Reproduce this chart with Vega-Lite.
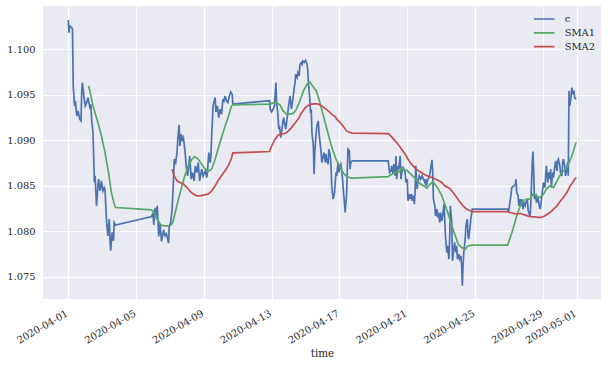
{
"$schema": "https://vega.github.io/schema/vega-lite/v6.json",
"width": 558, "height": 293,
"autosize": "none",
"padding": {"left": 43, "top": 6, "right": 7, "bottom": 66},
"background": "white",
"config": {
  "font": "DejaVu Serif",
  "view": {"fill": "#EAEAF2", "stroke": null},
  "axis": {"domain": false, "ticks": false, "gridColor": "white", "gridWidth": 1.1, "labelFont": "DejaVu Serif", "labelFontSize": 9.9, "labelColor": "#262626", "titleFont": "DejaVu Serif", "titleFontSize": 10.4, "titleColor": "#262626", "titleFontWeight": "normal"}
},
"data": {"values": [
{"t":"2020-04-01T00:00","v":1.10322,"s":"c"},{"t":"2020-04-01T01:00","v":1.10182,"s":"c"},{"t":"2020-04-01T02:00","v":1.10256,"s":"c"},{"t":"2020-04-01T05:00","v":1.10237,"s":"c"},{"t":"2020-04-01T06:00","v":1.10220,"s":"c"},{"t":"2020-04-01T07:00","v":1.09597,"s":"c"},{"t":"2020-04-01T09:00","v":1.09377,"s":"c"},{"t":"2020-04-01T10:00","v":1.09432,"s":"c"},{"t":"2020-04-01T12:00","v":1.09267,"s":"c"},{"t":"2020-04-01T14:00","v":1.09322,"s":"c"},{"t":"2020-04-01T16:00","v":1.09234,"s":"c"},{"t":"2020-04-01T18:00","v":1.09212,"s":"c"},{"t":"2020-04-01T19:00","v":1.09523,"s":"c"},{"t":"2020-04-01T20:00","v":1.09633,"s":"c"},{"t":"2020-04-01T22:00","v":1.09487,"s":"c"},
{"t":"2020-04-02T00:00","v":1.09377,"s":"c"},{"t":"2020-04-02T02:00","v":1.09413,"s":"c"},{"t":"2020-04-02T04:00","v":1.09468,"s":"c"},{"t":"2020-04-02T07:00","v":1.09341,"s":"c"},{"t":"2020-04-02T08:00","v":1.09396,"s":"c"},{"t":"2020-04-02T09:00","v":1.09231,"s":"c"},{"t":"2020-04-02T11:00","v":1.09084,"s":"c"},{"t":"2020-04-02T13:00","v":1.08534,"s":"c"},{"t":"2020-04-02T14:00","v":1.08608,"s":"c"},{"t":"2020-04-02T16:00","v":1.08278,"s":"c"},{"t":"2020-04-02T18:00","v":1.08498,"s":"c"},{"t":"2020-04-02T19:00","v":1.08571,"s":"c"},{"t":"2020-04-02T21:00","v":1.08443,"s":"c"},{"t":"2020-04-02T23:00","v":1.08553,"s":"c"},
{"t":"2020-04-03T01:00","v":1.08443,"s":"c"},{"t":"2020-04-03T03:00","v":1.08479,"s":"c"},{"t":"2020-04-03T04:00","v":1.08462,"s":"c"},{"t":"2020-04-03T06:00","v":1.08132,"s":"c"},{"t":"2020-04-03T08:00","v":1.07948,"s":"c"},{"t":"2020-04-03T10:00","v":1.08132,"s":"c"},{"t":"2020-04-03T11:00","v":1.07912,"s":"c"},{"t":"2020-04-03T12:00","v":1.07784,"s":"c"},{"t":"2020-04-03T14:00","v":1.07985,"s":"c"},{"t":"2020-04-03T16:00","v":1.07893,"s":"c"},{"t":"2020-04-03T17:00","v":1.08094,"s":"c"},{"t":"2020-04-03T19:00","v":1.08066,"s":"c"},
{"t":"2020-04-05T22:00","v":1.08160,"s":"c"},{"t":"2020-04-06T00:00","v":1.08201,"s":"c"},{"t":"2020-04-06T01:00","v":1.08069,"s":"c"},{"t":"2020-04-06T03:00","v":1.08256,"s":"c"},{"t":"2020-04-06T05:00","v":1.08168,"s":"c"},{"t":"2020-04-06T06:00","v":1.08278,"s":"c"},{"t":"2020-04-06T08:00","v":1.07941,"s":"c"},{"t":"2020-04-06T10:00","v":1.08080,"s":"c"},{"t":"2020-04-06T12:00","v":1.07886,"s":"c"},{"t":"2020-04-06T15:00","v":1.08014,"s":"c"},{"t":"2020-04-06T17:00","v":1.07948,"s":"c"},{"t":"2020-04-06T19:00","v":1.07970,"s":"c"},{"t":"2020-04-06T22:00","v":1.07868,"s":"c"},{"t":"2020-04-06T23:00","v":1.08058,"s":"c"},
{"t":"2020-04-07T01:00","v":1.08094,"s":"c"},{"t":"2020-04-07T03:00","v":1.08242,"s":"c"},{"t":"2020-04-07T05:00","v":1.08571,"s":"c"},{"t":"2020-04-07T06:00","v":1.08791,"s":"c"},{"t":"2020-04-07T08:00","v":1.08754,"s":"c"},{"t":"2020-04-07T10:00","v":1.08864,"s":"c"},{"t":"2020-04-07T11:00","v":1.09011,"s":"c"},{"t":"2020-04-07T13:00","v":1.09168,"s":"c"},{"t":"2020-04-07T14:00","v":1.08937,"s":"c"},{"t":"2020-04-07T16:00","v":1.09066,"s":"c"},{"t":"2020-04-07T17:00","v":1.08992,"s":"c"},{"t":"2020-04-07T19:00","v":1.09029,"s":"c"},{"t":"2020-04-07T21:00","v":1.08901,"s":"c"},{"t":"2020-04-07T23:00","v":1.08718,"s":"c"},
{"t":"2020-04-08T01:00","v":1.08608,"s":"c"},{"t":"2020-04-08T02:00","v":1.08681,"s":"c"},{"t":"2020-04-08T04:00","v":1.08827,"s":"c"},{"t":"2020-04-08T06:00","v":1.08571,"s":"c"},{"t":"2020-04-08T08:00","v":1.08644,"s":"c"},{"t":"2020-04-08T10:00","v":1.08553,"s":"c"},{"t":"2020-04-08T12:00","v":1.08718,"s":"c"},{"t":"2020-04-08T14:00","v":1.08644,"s":"c"},{"t":"2020-04-08T16:00","v":1.08754,"s":"c"},{"t":"2020-04-08T18:00","v":1.08553,"s":"c"},{"t":"2020-04-08T21:00","v":1.08681,"s":"c"},{"t":"2020-04-08T23:00","v":1.08608,"s":"c"},
{"t":"2020-04-09T02:00","v":1.08663,"s":"c"},{"t":"2020-04-09T04:00","v":1.08589,"s":"c"},{"t":"2020-04-09T05:00","v":1.08644,"s":"c"},{"t":"2020-04-09T07:00","v":1.08864,"s":"c"},{"t":"2020-04-09T09:00","v":1.08754,"s":"c"},{"t":"2020-04-09T10:00","v":1.08827,"s":"c"},{"t":"2020-04-09T11:00","v":1.09047,"s":"c"},{"t":"2020-04-09T13:00","v":1.09377,"s":"c"},{"t":"2020-04-09T14:00","v":1.09413,"s":"c"},{"t":"2020-04-09T16:00","v":1.09468,"s":"c"},{"t":"2020-04-09T17:00","v":1.09311,"s":"c"},{"t":"2020-04-09T19:00","v":1.09377,"s":"c"},{"t":"2020-04-09T21:00","v":1.09248,"s":"c"},{"t":"2020-04-09T23:00","v":1.09341,"s":"c"},
{"t":"2020-04-10T01:00","v":1.09286,"s":"c"},{"t":"2020-04-10T03:00","v":1.09451,"s":"c"},{"t":"2020-04-10T04:00","v":1.09413,"s":"c"},{"t":"2020-04-10T06:00","v":1.09487,"s":"c"},{"t":"2020-04-10T08:00","v":1.09432,"s":"c"},{"t":"2020-04-10T10:00","v":1.09413,"s":"c"},{"t":"2020-04-10T12:00","v":1.09487,"s":"c"},{"t":"2020-04-10T14:00","v":1.09531,"s":"c"},{"t":"2020-04-10T16:00","v":1.09505,"s":"c"},{"t":"2020-04-10T17:00","v":1.09396,"s":"c"},
{"t":"2020-04-12T21:00","v":1.09435,"s":"c"},{"t":"2020-04-12T22:00","v":1.09341,"s":"c"},{"t":"2020-04-13T00:00","v":1.09311,"s":"c"},{"t":"2020-04-13T02:00","v":1.09341,"s":"c"},{"t":"2020-04-13T04:00","v":1.09377,"s":"c"},{"t":"2020-04-13T06:00","v":1.09633,"s":"c"},{"t":"2020-04-13T07:00","v":1.09413,"s":"c"},{"t":"2020-04-13T09:00","v":1.09267,"s":"c"},{"t":"2020-04-13T10:00","v":1.09121,"s":"c"},{"t":"2020-04-13T11:00","v":1.09157,"s":"c"},{"t":"2020-04-13T13:00","v":1.09029,"s":"c"},{"t":"2020-04-13T14:00","v":1.09084,"s":"c"},{"t":"2020-04-13T16:00","v":1.09212,"s":"c"},{"t":"2020-04-13T17:00","v":1.09248,"s":"c"},{"t":"2020-04-13T19:00","v":1.09157,"s":"c"},{"t":"2020-04-13T20:00","v":1.09121,"s":"c"},{"t":"2020-04-13T22:00","v":1.09248,"s":"c"},
{"t":"2020-04-14T00:00","v":1.09377,"s":"c"},{"t":"2020-04-14T02:00","v":1.09487,"s":"c"},{"t":"2020-04-14T03:00","v":1.09413,"s":"c"},{"t":"2020-04-14T04:00","v":1.09341,"s":"c"},{"t":"2020-04-14T06:00","v":1.09451,"s":"c"},{"t":"2020-04-14T08:00","v":1.09578,"s":"c"},{"t":"2020-04-14T09:00","v":1.09633,"s":"c"},{"t":"2020-04-14T10:00","v":1.09725,"s":"c"},{"t":"2020-04-14T12:00","v":1.09688,"s":"c"},{"t":"2020-04-14T13:00","v":1.09743,"s":"c"},{"t":"2020-04-14T15:00","v":1.09707,"s":"c"},{"t":"2020-04-14T16:00","v":1.09835,"s":"c"},{"t":"2020-04-14T18:00","v":1.09853,"s":"c"},{"t":"2020-04-14T19:00","v":1.09835,"s":"c"},{"t":"2020-04-14T20:00","v":1.09871,"s":"c"},{"t":"2020-04-14T22:00","v":1.09853,"s":"c"},
{"t":"2020-04-15T00:00","v":1.09879,"s":"c"},{"t":"2020-04-15T02:00","v":1.09835,"s":"c"},{"t":"2020-04-15T03:00","v":1.09780,"s":"c"},{"t":"2020-04-15T04:00","v":1.09633,"s":"c"},{"t":"2020-04-15T06:00","v":1.09451,"s":"c"},{"t":"2020-04-15T07:00","v":1.09303,"s":"c"},{"t":"2020-04-15T08:00","v":1.09341,"s":"c"},{"t":"2020-04-15T09:00","v":1.09084,"s":"c"},{"t":"2020-04-15T11:00","v":1.08937,"s":"c"},{"t":"2020-04-15T12:00","v":1.08626,"s":"c"},{"t":"2020-04-15T13:00","v":1.08864,"s":"c"},{"t":"2020-04-15T15:00","v":1.09084,"s":"c"},{"t":"2020-04-15T16:00","v":1.09157,"s":"c"},{"t":"2020-04-15T18:00","v":1.09212,"s":"c"},{"t":"2020-04-15T19:00","v":1.09084,"s":"c"},{"t":"2020-04-15T20:00","v":1.09011,"s":"c"},{"t":"2020-04-15T22:00","v":1.08864,"s":"c"},{"t":"2020-04-15T23:00","v":1.08754,"s":"c"},
{"t":"2020-04-16T01:00","v":1.08827,"s":"c"},{"t":"2020-04-16T02:00","v":1.08864,"s":"c"},{"t":"2020-04-16T04:00","v":1.08754,"s":"c"},{"t":"2020-04-16T05:00","v":1.08846,"s":"c"},{"t":"2020-04-16T06:00","v":1.08791,"s":"c"},{"t":"2020-04-16T08:00","v":1.08736,"s":"c"},{"t":"2020-04-16T09:00","v":1.08901,"s":"c"},{"t":"2020-04-16T11:00","v":1.08827,"s":"c"},{"t":"2020-04-16T12:00","v":1.08718,"s":"c"},{"t":"2020-04-16T13:00","v":1.08498,"s":"c"},{"t":"2020-04-16T15:00","v":1.08352,"s":"c"},{"t":"2020-04-16T17:00","v":1.08424,"s":"c"},{"t":"2020-04-16T19:00","v":1.08644,"s":"c"},{"t":"2020-04-16T20:00","v":1.08608,"s":"c"},{"t":"2020-04-16T22:00","v":1.08754,"s":"c"},{"t":"2020-04-16T23:00","v":1.08644,"s":"c"},
{"t":"2020-04-17T01:00","v":1.08718,"s":"c"},{"t":"2020-04-17T02:00","v":1.08736,"s":"c"},{"t":"2020-04-17T04:00","v":1.08608,"s":"c"},{"t":"2020-04-17T05:00","v":1.08498,"s":"c"},{"t":"2020-04-17T07:00","v":1.08314,"s":"c"},{"t":"2020-04-17T08:00","v":1.08204,"s":"c"},{"t":"2020-04-17T10:00","v":1.08388,"s":"c"},{"t":"2020-04-17T11:00","v":1.08644,"s":"c"},{"t":"2020-04-17T12:00","v":1.08901,"s":"c"},{"t":"2020-04-17T14:00","v":1.08882,"s":"c"},{"t":"2020-04-17T15:00","v":1.08681,"s":"c"},{"t":"2020-04-17T16:00","v":1.08754,"s":"c"},{"t":"2020-04-17T18:00","v":1.08773,"s":"c"},
{"t":"2020-04-19T21:00","v":1.08773,"s":"c"},{"t":"2020-04-19T23:00","v":1.08644,"s":"c"},{"t":"2020-04-20T01:00","v":1.08663,"s":"c"},{"t":"2020-04-20T02:00","v":1.08718,"s":"c"},{"t":"2020-04-20T04:00","v":1.08626,"s":"c"},{"t":"2020-04-20T05:00","v":1.08736,"s":"c"},{"t":"2020-04-20T07:00","v":1.08608,"s":"c"},{"t":"2020-04-20T08:00","v":1.08827,"s":"c"},{"t":"2020-04-20T09:00","v":1.08571,"s":"c"},{"t":"2020-04-20T11:00","v":1.08718,"s":"c"},{"t":"2020-04-20T12:00","v":1.08681,"s":"c"},{"t":"2020-04-20T14:00","v":1.08827,"s":"c"},{"t":"2020-04-20T15:00","v":1.08571,"s":"c"},{"t":"2020-04-20T17:00","v":1.08681,"s":"c"},{"t":"2020-04-20T18:00","v":1.08699,"s":"c"},{"t":"2020-04-20T19:00","v":1.08681,"s":"c"},{"t":"2020-04-20T21:00","v":1.08644,"s":"c"},{"t":"2020-04-20T22:00","v":1.08534,"s":"c"},
{"t":"2020-04-21T00:00","v":1.08571,"s":"c"},{"t":"2020-04-21T01:00","v":1.08333,"s":"c"},{"t":"2020-04-21T03:00","v":1.08407,"s":"c"},{"t":"2020-04-21T04:00","v":1.08352,"s":"c"},{"t":"2020-04-21T06:00","v":1.08407,"s":"c"},{"t":"2020-04-21T07:00","v":1.08333,"s":"c"},{"t":"2020-04-21T09:00","v":1.08388,"s":"c"},{"t":"2020-04-21T10:00","v":1.08297,"s":"c"},{"t":"2020-04-21T11:00","v":1.08424,"s":"c"},{"t":"2020-04-21T12:00","v":1.08718,"s":"c"},{"t":"2020-04-21T14:00","v":1.08462,"s":"c"},{"t":"2020-04-21T15:00","v":1.08534,"s":"c"},{"t":"2020-04-21T17:00","v":1.08608,"s":"c"},{"t":"2020-04-21T19:00","v":1.08571,"s":"c"},{"t":"2020-04-21T21:00","v":1.08608,"s":"c"},{"t":"2020-04-21T23:00","v":1.08571,"s":"c"},
{"t":"2020-04-22T01:00","v":1.08534,"s":"c"},{"t":"2020-04-22T02:00","v":1.08571,"s":"c"},{"t":"2020-04-22T03:00","v":1.08498,"s":"c"},{"t":"2020-04-22T05:00","v":1.08571,"s":"c"},{"t":"2020-04-22T07:00","v":1.08589,"s":"c"},{"t":"2020-04-22T09:00","v":1.08681,"s":"c"},{"t":"2020-04-22T11:00","v":1.08784,"s":"c"},{"t":"2020-04-22T12:00","v":1.08644,"s":"c"},{"t":"2020-04-22T13:00","v":1.08352,"s":"c"},{"t":"2020-04-22T15:00","v":1.08278,"s":"c"},{"t":"2020-04-22T16:00","v":1.08168,"s":"c"},{"t":"2020-04-22T18:00","v":1.08242,"s":"c"},{"t":"2020-04-22T19:00","v":1.08149,"s":"c"},{"t":"2020-04-22T20:00","v":1.08204,"s":"c"},{"t":"2020-04-22T22:00","v":1.08094,"s":"c"},{"t":"2020-04-22T23:00","v":1.08204,"s":"c"},
{"t":"2020-04-23T01:00","v":1.08113,"s":"c"},{"t":"2020-04-23T02:00","v":1.08168,"s":"c"},{"t":"2020-04-23T04:00","v":1.08297,"s":"c"},{"t":"2020-04-23T05:00","v":1.08132,"s":"c"},{"t":"2020-04-23T06:00","v":1.07948,"s":"c"},{"t":"2020-04-23T08:00","v":1.07765,"s":"c"},{"t":"2020-04-23T09:00","v":1.07838,"s":"c"},{"t":"2020-04-23T11:00","v":1.07692,"s":"c"},{"t":"2020-04-23T12:00","v":1.07912,"s":"c"},{"t":"2020-04-23T13:00","v":1.08278,"s":"c"},{"t":"2020-04-23T15:00","v":1.08094,"s":"c"},{"t":"2020-04-23T16:00","v":1.07673,"s":"c"},{"t":"2020-04-23T18:00","v":1.07802,"s":"c"},{"t":"2020-04-23T19:00","v":1.07875,"s":"c"},{"t":"2020-04-23T21:00","v":1.07765,"s":"c"},{"t":"2020-04-23T22:00","v":1.07838,"s":"c"},{"t":"2020-04-23T23:00","v":1.07692,"s":"c"},
{"t":"2020-04-24T01:00","v":1.07747,"s":"c"},{"t":"2020-04-24T02:00","v":1.07692,"s":"c"},{"t":"2020-04-24T04:00","v":1.07729,"s":"c"},{"t":"2020-04-24T05:00","v":1.07619,"s":"c"},{"t":"2020-04-24T06:00","v":1.07399,"s":"c"},{"t":"2020-04-24T07:00","v":1.07619,"s":"c"},{"t":"2020-04-24T08:00","v":1.07765,"s":"c"},{"t":"2020-04-24T10:00","v":1.07912,"s":"c"},{"t":"2020-04-24T11:00","v":1.08058,"s":"c"},{"t":"2020-04-24T13:00","v":1.08132,"s":"c"},{"t":"2020-04-24T14:00","v":1.07948,"s":"c"},{"t":"2020-04-24T15:00","v":1.07912,"s":"c"},{"t":"2020-04-24T17:00","v":1.08058,"s":"c"},{"t":"2020-04-24T18:00","v":1.08132,"s":"c"},{"t":"2020-04-24T20:00","v":1.08242,"s":"c"},
{"t":"2020-04-26T22:00","v":1.08242,"s":"c"},{"t":"2020-04-26T23:00","v":1.08204,"s":"c"},{"t":"2020-04-27T00:00","v":1.08242,"s":"c"},{"t":"2020-04-27T02:00","v":1.08352,"s":"c"},{"t":"2020-04-27T04:00","v":1.08479,"s":"c"},{"t":"2020-04-27T06:00","v":1.08490,"s":"c"},{"t":"2020-04-27T09:00","v":1.08509,"s":"c"},{"t":"2020-04-27T10:00","v":1.08571,"s":"c"},{"t":"2020-04-27T11:00","v":1.08424,"s":"c"},{"t":"2020-04-27T13:00","v":1.08388,"s":"c"},{"t":"2020-04-27T14:00","v":1.08278,"s":"c"},{"t":"2020-04-27T16:00","v":1.08352,"s":"c"},{"t":"2020-04-27T17:00","v":1.08278,"s":"c"},{"t":"2020-04-27T18:00","v":1.08352,"s":"c"},{"t":"2020-04-27T20:00","v":1.08242,"s":"c"},{"t":"2020-04-27T21:00","v":1.08314,"s":"c"},{"t":"2020-04-27T23:00","v":1.08278,"s":"c"},
{"t":"2020-04-28T00:00","v":1.08314,"s":"c"},{"t":"2020-04-28T02:00","v":1.08352,"s":"c"},{"t":"2020-04-28T03:00","v":1.08242,"s":"c"},{"t":"2020-04-28T04:00","v":1.08204,"s":"c"},{"t":"2020-04-28T06:00","v":1.08168,"s":"c"},{"t":"2020-04-28T07:00","v":1.08314,"s":"c"},{"t":"2020-04-28T09:00","v":1.08754,"s":"c"},{"t":"2020-04-28T10:00","v":1.08875,"s":"c"},{"t":"2020-04-28T11:00","v":1.08644,"s":"c"},{"t":"2020-04-28T12:00","v":1.08352,"s":"c"},{"t":"2020-04-28T14:00","v":1.08388,"s":"c"},{"t":"2020-04-28T15:00","v":1.08314,"s":"c"},{"t":"2020-04-28T17:00","v":1.08369,"s":"c"},{"t":"2020-04-28T18:00","v":1.08314,"s":"c"},{"t":"2020-04-28T20:00","v":1.08242,"s":"c"},{"t":"2020-04-28T21:00","v":1.08278,"s":"c"},{"t":"2020-04-28T22:00","v":1.08352,"s":"c"},
{"t":"2020-04-29T00:00","v":1.08479,"s":"c"},{"t":"2020-04-29T01:00","v":1.08534,"s":"c"},{"t":"2020-04-29T03:00","v":1.08479,"s":"c"},{"t":"2020-04-29T04:00","v":1.08608,"s":"c"},{"t":"2020-04-29T05:00","v":1.08718,"s":"c"},{"t":"2020-04-29T07:00","v":1.08534,"s":"c"},{"t":"2020-04-29T08:00","v":1.08644,"s":"c"},{"t":"2020-04-29T10:00","v":1.08571,"s":"c"},{"t":"2020-04-29T11:00","v":1.08681,"s":"c"},{"t":"2020-04-29T12:00","v":1.08479,"s":"c"},{"t":"2020-04-29T14:00","v":1.08644,"s":"c"},{"t":"2020-04-29T15:00","v":1.08589,"s":"c"},{"t":"2020-04-29T17:00","v":1.08718,"s":"c"},{"t":"2020-04-29T18:00","v":1.08773,"s":"c"},{"t":"2020-04-29T20:00","v":1.08663,"s":"c"},{"t":"2020-04-29T21:00","v":1.08773,"s":"c"},{"t":"2020-04-29T22:00","v":1.08791,"s":"c"},
{"t":"2020-04-30T00:00","v":1.08718,"s":"c"},{"t":"2020-04-30T01:00","v":1.08644,"s":"c"},{"t":"2020-04-30T03:00","v":1.08608,"s":"c"},{"t":"2020-04-30T04:00","v":1.08754,"s":"c"},{"t":"2020-04-30T05:00","v":1.08791,"s":"c"},{"t":"2020-04-30T07:00","v":1.08718,"s":"c"},{"t":"2020-04-30T08:00","v":1.08608,"s":"c"},{"t":"2020-04-30T10:00","v":1.08681,"s":"c"},{"t":"2020-04-30T11:00","v":1.08754,"s":"c"},{"t":"2020-04-30T12:00","v":1.08608,"s":"c"},{"t":"2020-04-30T13:00","v":1.09542,"s":"c"},{"t":"2020-04-30T14:00","v":1.09377,"s":"c"},{"t":"2020-04-30T16:00","v":1.09476,"s":"c"},{"t":"2020-04-30T17:00","v":1.09578,"s":"c"},{"t":"2020-04-30T19:00","v":1.09505,"s":"c"},{"t":"2020-04-30T20:00","v":1.09545,"s":"c"},{"t":"2020-04-30T21:00","v":1.09468,"s":"c"},{"t":"2020-04-30T23:00","v":1.09451,"s":"c"},

{"t":"2020-04-02T05:00","v":1.09597,"s":"SMA1"},{"t":"2020-04-02T11:00","v":1.09377,"s":"SMA1"},{"t":"2020-04-02T18:00","v":1.09193,"s":"SMA1"},{"t":"2020-04-02T23:00","v":1.09047,"s":"SMA1"},{"t":"2020-04-03T04:00","v":1.08864,"s":"SMA1"},{"t":"2020-04-03T09:00","v":1.08644,"s":"SMA1"},{"t":"2020-04-03T13:00","v":1.08424,"s":"SMA1"},{"t":"2020-04-03T17:00","v":1.08297,"s":"SMA1"},{"t":"2020-04-03T19:00","v":1.08259,"s":"SMA1"},
{"t":"2020-04-05T22:00","v":1.08234,"s":"SMA1"},{"t":"2020-04-06T03:00","v":1.08196,"s":"SMA1"},{"t":"2020-04-06T05:00","v":1.08132,"s":"SMA1"},{"t":"2020-04-06T07:00","v":1.08124,"s":"SMA1"},{"t":"2020-04-06T10:00","v":1.08077,"s":"SMA1"},{"t":"2020-04-06T12:00","v":1.08062,"s":"SMA1"},{"t":"2020-04-06T18:00","v":1.08058,"s":"SMA1"},{"t":"2020-04-07T00:00","v":1.08058,"s":"SMA1"},{"t":"2020-04-07T04:00","v":1.08094,"s":"SMA1"},{"t":"2020-04-07T07:00","v":1.08190,"s":"SMA1"},{"t":"2020-04-07T12:00","v":1.08352,"s":"SMA1"},{"t":"2020-04-07T17:00","v":1.08498,"s":"SMA1"},{"t":"2020-04-07T21:00","v":1.08608,"s":"SMA1"},{"t":"2020-04-08T02:00","v":1.08718,"s":"SMA1"},{"t":"2020-04-08T07:00","v":1.08791,"s":"SMA1"},{"t":"2020-04-08T11:00","v":1.08820,"s":"SMA1"},{"t":"2020-04-08T16:00","v":1.08791,"s":"SMA1"},{"t":"2020-04-08T21:00","v":1.08736,"s":"SMA1"},{"t":"2020-04-09T02:00","v":1.08681,"s":"SMA1"},{"t":"2020-04-09T06:00","v":1.08655,"s":"SMA1"},{"t":"2020-04-09T11:00","v":1.08681,"s":"SMA1"},{"t":"2020-04-09T16:00","v":1.08791,"s":"SMA1"},{"t":"2020-04-09T20:00","v":1.08901,"s":"SMA1"},{"t":"2020-04-10T01:00","v":1.09029,"s":"SMA1"},{"t":"2020-04-10T06:00","v":1.09157,"s":"SMA1"},{"t":"2020-04-10T11:00","v":1.09267,"s":"SMA1"},{"t":"2020-04-10T15:00","v":1.09377,"s":"SMA1"},{"t":"2020-04-10T17:00","v":1.09388,"s":"SMA1"},
{"t":"2020-04-12T21:00","v":1.09396,"s":"SMA1"},{"t":"2020-04-13T02:00","v":1.09407,"s":"SMA1"},{"t":"2020-04-13T07:00","v":1.09413,"s":"SMA1"},{"t":"2020-04-13T12:00","v":1.09385,"s":"SMA1"},{"t":"2020-04-13T16:00","v":1.09322,"s":"SMA1"},{"t":"2020-04-13T21:00","v":1.09286,"s":"SMA1"},{"t":"2020-04-14T02:00","v":1.09286,"s":"SMA1"},{"t":"2020-04-14T07:00","v":1.09297,"s":"SMA1"},{"t":"2020-04-14T11:00","v":1.09341,"s":"SMA1"},{"t":"2020-04-14T16:00","v":1.09432,"s":"SMA1"},{"t":"2020-04-14T21:00","v":1.09542,"s":"SMA1"},{"t":"2020-04-15T02:00","v":1.09615,"s":"SMA1"},{"t":"2020-04-15T06:00","v":1.09641,"s":"SMA1"},{"t":"2020-04-15T10:00","v":1.09597,"s":"SMA1"},{"t":"2020-04-15T15:00","v":1.09542,"s":"SMA1"},{"t":"2020-04-15T19:00","v":1.09451,"s":"SMA1"},{"t":"2020-04-16T00:00","v":1.09303,"s":"SMA1"},{"t":"2020-04-16T05:00","v":1.09157,"s":"SMA1"},{"t":"2020-04-16T10:00","v":1.09011,"s":"SMA1"},{"t":"2020-04-16T14:00","v":1.08901,"s":"SMA1"},{"t":"2020-04-16T19:00","v":1.08791,"s":"SMA1"},{"t":"2020-04-17T00:00","v":1.08718,"s":"SMA1"},{"t":"2020-04-17T05:00","v":1.08644,"s":"SMA1"},{"t":"2020-04-17T09:00","v":1.08608,"s":"SMA1"},{"t":"2020-04-17T14:00","v":1.08589,"s":"SMA1"},{"t":"2020-04-17T18:00","v":1.08582,"s":"SMA1"},
{"t":"2020-04-19T21:00","v":1.08600,"s":"SMA1"},{"t":"2020-04-20T02:00","v":1.08626,"s":"SMA1"},{"t":"2020-04-20T09:00","v":1.08655,"s":"SMA1"},{"t":"2020-04-20T13:00","v":1.08652,"s":"SMA1"},{"t":"2020-04-20T16:00","v":1.08699,"s":"SMA1"},{"t":"2020-04-20T19:00","v":1.08681,"s":"SMA1"},{"t":"2020-04-21T00:00","v":1.08663,"s":"SMA1"},{"t":"2020-04-21T05:00","v":1.08626,"s":"SMA1"},{"t":"2020-04-21T10:00","v":1.08589,"s":"SMA1"},{"t":"2020-04-21T14:00","v":1.08553,"s":"SMA1"},{"t":"2020-04-21T19:00","v":1.08517,"s":"SMA1"},{"t":"2020-04-21T23:00","v":1.08498,"s":"SMA1"},{"t":"2020-04-22T04:00","v":1.08473,"s":"SMA1"},{"t":"2020-04-22T07:00","v":1.08506,"s":"SMA1"},{"t":"2020-04-22T12:00","v":1.08542,"s":"SMA1"},{"t":"2020-04-22T15:00","v":1.08517,"s":"SMA1"},{"t":"2020-04-22T20:00","v":1.08462,"s":"SMA1"},{"t":"2020-04-23T01:00","v":1.08388,"s":"SMA1"},{"t":"2020-04-23T05:00","v":1.08297,"s":"SMA1"},{"t":"2020-04-23T10:00","v":1.08187,"s":"SMA1"},{"t":"2020-04-23T15:00","v":1.08058,"s":"SMA1"},{"t":"2020-04-23T20:00","v":1.07948,"s":"SMA1"},{"t":"2020-04-24T00:00","v":1.07857,"s":"SMA1"},{"t":"2020-04-24T05:00","v":1.07820,"s":"SMA1"},{"t":"2020-04-24T10:00","v":1.07802,"s":"SMA1"},{"t":"2020-04-24T14:00","v":1.07838,"s":"SMA1"},{"t":"2020-04-24T20:00","v":1.07846,"s":"SMA1"},
{"t":"2020-04-26T22:00","v":1.07846,"s":"SMA1"},{"t":"2020-04-27T01:00","v":1.07912,"s":"SMA1"},{"t":"2020-04-27T05:00","v":1.08003,"s":"SMA1"},{"t":"2020-04-27T11:00","v":1.08168,"s":"SMA1"},{"t":"2020-04-27T16:00","v":1.08278,"s":"SMA1"},{"t":"2020-04-27T20:00","v":1.08333,"s":"SMA1"},{"t":"2020-04-28T01:00","v":1.08352,"s":"SMA1"},{"t":"2020-04-28T06:00","v":1.08355,"s":"SMA1"},{"t":"2020-04-28T10:00","v":1.08407,"s":"SMA1"},{"t":"2020-04-28T15:00","v":1.08388,"s":"SMA1"},{"t":"2020-04-28T20:00","v":1.08369,"s":"SMA1"},{"t":"2020-04-29T01:00","v":1.08407,"s":"SMA1"},{"t":"2020-04-29T05:00","v":1.08462,"s":"SMA1"},{"t":"2020-04-29T10:00","v":1.08498,"s":"SMA1"},{"t":"2020-04-29T15:00","v":1.08479,"s":"SMA1"},{"t":"2020-04-29T20:00","v":1.08553,"s":"SMA1"},{"t":"2020-04-30T00:00","v":1.08608,"s":"SMA1"},{"t":"2020-04-30T05:00","v":1.08663,"s":"SMA1"},{"t":"2020-04-30T10:00","v":1.08699,"s":"SMA1"},{"t":"2020-04-30T13:00","v":1.08754,"s":"SMA1"},{"t":"2020-04-30T17:00","v":1.08827,"s":"SMA1"},{"t":"2020-04-30T20:00","v":1.08901,"s":"SMA1"},{"t":"2020-04-30T23:00","v":1.08974,"s":"SMA1"},

{"t":"2020-04-07T03:00","v":1.08681,"s":"SMA2"},{"t":"2020-04-07T06:00","v":1.08608,"s":"SMA2"},{"t":"2020-04-07T10:00","v":1.08553,"s":"SMA2"},{"t":"2020-04-07T14:00","v":1.08534,"s":"SMA2"},{"t":"2020-04-07T19:00","v":1.08517,"s":"SMA2"},{"t":"2020-04-08T00:00","v":1.08479,"s":"SMA2"},{"t":"2020-04-08T04:00","v":1.08443,"s":"SMA2"},{"t":"2020-04-08T09:00","v":1.08407,"s":"SMA2"},{"t":"2020-04-08T14:00","v":1.08388,"s":"SMA2"},{"t":"2020-04-08T18:00","v":1.08388,"s":"SMA2"},{"t":"2020-04-08T23:00","v":1.08396,"s":"SMA2"},{"t":"2020-04-09T06:00","v":1.08407,"s":"SMA2"},{"t":"2020-04-09T11:00","v":1.08443,"s":"SMA2"},{"t":"2020-04-09T16:00","v":1.08498,"s":"SMA2"},{"t":"2020-04-09T20:00","v":1.08553,"s":"SMA2"},{"t":"2020-04-10T01:00","v":1.08608,"s":"SMA2"},{"t":"2020-04-10T06:00","v":1.08663,"s":"SMA2"},{"t":"2020-04-10T11:00","v":1.08725,"s":"SMA2"},{"t":"2020-04-10T15:00","v":1.08798,"s":"SMA2"},{"t":"2020-04-10T17:00","v":1.08860,"s":"SMA2"},
{"t":"2020-04-12T21:00","v":1.08875,"s":"SMA2"},{"t":"2020-04-13T00:00","v":1.08937,"s":"SMA2"},{"t":"2020-04-13T05:00","v":1.09011,"s":"SMA2"},{"t":"2020-04-13T09:00","v":1.09055,"s":"SMA2"},{"t":"2020-04-13T14:00","v":1.09069,"s":"SMA2"},{"t":"2020-04-13T19:00","v":1.09073,"s":"SMA2"},{"t":"2020-04-14T00:00","v":1.09102,"s":"SMA2"},{"t":"2020-04-14T04:00","v":1.09138,"s":"SMA2"},{"t":"2020-04-14T09:00","v":1.09187,"s":"SMA2"},{"t":"2020-04-14T14:00","v":1.09237,"s":"SMA2"},{"t":"2020-04-14T18:00","v":1.09297,"s":"SMA2"},{"t":"2020-04-14T23:00","v":1.09352,"s":"SMA2"},{"t":"2020-04-15T04:00","v":1.09385,"s":"SMA2"},{"t":"2020-04-15T09:00","v":1.09396,"s":"SMA2"},{"t":"2020-04-15T13:00","v":1.09402,"s":"SMA2"},{"t":"2020-04-15T18:00","v":1.09396,"s":"SMA2"},{"t":"2020-04-15T23:00","v":1.09377,"s":"SMA2"},{"t":"2020-04-16T03:00","v":1.09352,"s":"SMA2"},{"t":"2020-04-16T08:00","v":1.09322,"s":"SMA2"},{"t":"2020-04-16T13:00","v":1.09286,"s":"SMA2"},{"t":"2020-04-16T18:00","v":1.09256,"s":"SMA2"},{"t":"2020-04-16T20:00","v":1.09231,"s":"SMA2"},{"t":"2020-04-17T01:00","v":1.09193,"s":"SMA2"},{"t":"2020-04-17T05:00","v":1.09157,"s":"SMA2"},{"t":"2020-04-17T10:00","v":1.09102,"s":"SMA2"},{"t":"2020-04-17T15:00","v":1.09084,"s":"SMA2"},{"t":"2020-04-17T18:00","v":1.09077,"s":"SMA2"},
{"t":"2020-04-19T21:00","v":1.09073,"s":"SMA2"},{"t":"2020-04-20T02:00","v":1.09036,"s":"SMA2"},{"t":"2020-04-20T07:00","v":1.08992,"s":"SMA2"},{"t":"2020-04-20T11:00","v":1.08956,"s":"SMA2"},{"t":"2020-04-20T16:00","v":1.08901,"s":"SMA2"},{"t":"2020-04-20T21:00","v":1.08846,"s":"SMA2"},{"t":"2020-04-21T01:00","v":1.08791,"s":"SMA2"},{"t":"2020-04-21T06:00","v":1.08736,"s":"SMA2"},{"t":"2020-04-21T11:00","v":1.08692,"s":"SMA2"},{"t":"2020-04-21T16:00","v":1.08663,"s":"SMA2"},{"t":"2020-04-21T20:00","v":1.08644,"s":"SMA2"},{"t":"2020-04-22T01:00","v":1.08619,"s":"SMA2"},{"t":"2020-04-22T06:00","v":1.08602,"s":"SMA2"},{"t":"2020-04-22T11:00","v":1.08589,"s":"SMA2"},{"t":"2020-04-22T18:00","v":1.08564,"s":"SMA2"},{"t":"2020-04-23T01:00","v":1.08534,"s":"SMA2"},{"t":"2020-04-23T05:00","v":1.08498,"s":"SMA2"},{"t":"2020-04-23T12:00","v":1.08468,"s":"SMA2"},{"t":"2020-04-23T17:00","v":1.08424,"s":"SMA2"},{"t":"2020-04-23T22:00","v":1.08369,"s":"SMA2"},{"t":"2020-04-24T03:00","v":1.08314,"s":"SMA2"},{"t":"2020-04-24T07:00","v":1.08278,"s":"SMA2"},{"t":"2020-04-24T12:00","v":1.08242,"s":"SMA2"},{"t":"2020-04-24T17:00","v":1.08223,"s":"SMA2"},{"t":"2020-04-24T20:00","v":1.08215,"s":"SMA2"},
{"t":"2020-04-26T22:00","v":1.08215,"s":"SMA2"},{"t":"2020-04-27T01:00","v":1.08204,"s":"SMA2"},{"t":"2020-04-27T09:00","v":1.08190,"s":"SMA2"},{"t":"2020-04-27T16:00","v":1.08193,"s":"SMA2"},{"t":"2020-04-27T23:00","v":1.08176,"s":"SMA2"},{"t":"2020-04-28T06:00","v":1.08160,"s":"SMA2"},{"t":"2020-04-28T13:00","v":1.08157,"s":"SMA2"},{"t":"2020-04-28T20:00","v":1.08149,"s":"SMA2"},{"t":"2020-04-29T01:00","v":1.08160,"s":"SMA2"},{"t":"2020-04-29T05:00","v":1.08179,"s":"SMA2"},{"t":"2020-04-29T10:00","v":1.08204,"s":"SMA2"},{"t":"2020-04-29T15:00","v":1.08242,"s":"SMA2"},{"t":"2020-04-29T20:00","v":1.08278,"s":"SMA2"},{"t":"2020-04-30T00:00","v":1.08322,"s":"SMA2"},{"t":"2020-04-30T05:00","v":1.08369,"s":"SMA2"},{"t":"2020-04-30T10:00","v":1.08424,"s":"SMA2"},{"t":"2020-04-30T14:00","v":1.08487,"s":"SMA2"},{"t":"2020-04-30T19:00","v":1.08545,"s":"SMA2"},{"t":"2020-04-30T23:00","v":1.08589,"s":"SMA2"}
]},
"mark": {"type": "line", "strokeWidth": 1.7, "clip": true},
"encoding": {
  "x": {"field": "t", "type": "temporal",
    "scale": {"domain": [{"year": 2020, "month": 3, "date": 30, "hours": 12, "minutes": 12}, {"year": 2020, "month": 5, "date": 2, "hours": 10, "minutes": 18}]},
    "axis": {"title": "time", "format": "%Y-%m-%d", "labelAngle": -30, "labelAlign": "right", "labelBaseline": "top", "labelPadding": 9, "labelOffset": -4, "titlePadding": 3, "labelOverlap": false,
      "values": [{"year": 2020, "month": 4, "date": 1}, {"year": 2020, "month": 4, "date": 5}, {"year": 2020, "month": 4, "date": 9}, {"year": 2020, "month": 4, "date": 13}, {"year": 2020, "month": 4, "date": 17}, {"year": 2020, "month": 4, "date": 21}, {"year": 2020, "month": 4, "date": 25}, {"year": 2020, "month": 4, "date": 29}, {"year": 2020, "month": 5, "date": 1}]}},
  "y": {"field": "v", "type": "quantitative",
    "scale": {"domain": [1.07253, 1.10476], "zero": false, "nice": false},
    "axis": {"title": null, "values": [1.075, 1.08, 1.085, 1.09, 1.095, 1.1], "format": ".3f", "labelPadding": 8}},
  "color": {"field": "s", "type": "nominal",
    "scale": {"domain": ["c", "SMA1", "SMA2"], "range": ["#4C72B0", "#55A868", "#C44E52"]},
    "legend": {"title": null, "orient": "none", "legendX": 489.7, "legendY": 7, "symbolType": "stroke", "symbolSize": 420, "symbolStrokeWidth": 1.7, "labelFontSize": 9.9, "labelFont": "DejaVu Serif", "labelColor": "#262626", "labelOffset": 9, "clipHeight": 12, "rowPadding": 1.8, "padding": 0}}
}
}
